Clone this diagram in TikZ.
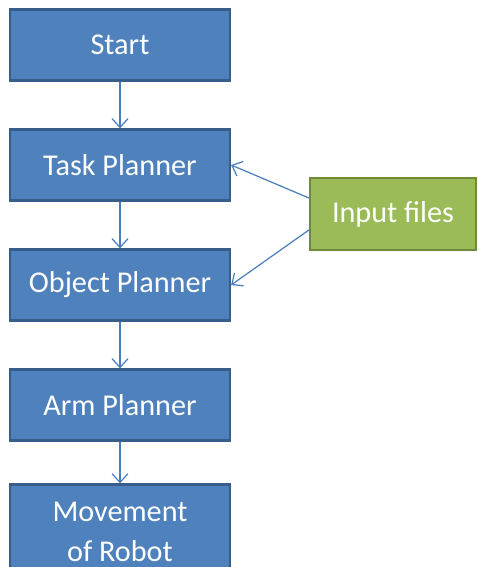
\documentclass[tikz,border=0pt]{standalone}
\usepackage{fontspec}
\setmainfont{Carlito}
\usepackage{xcolor}
\usetikzlibrary{arrows.meta}
\definecolor{boxblue}{HTML}{4F81BD}
\definecolor{lineblue}{HTML}{385D8A}
\definecolor{boxgreen}{HTML}{9BBB59}
\definecolor{linegreen}{HTML}{71893F}
\definecolor{arrowblue}{HTML}{4A7EBB}
\begin{document}
\begin{tikzpicture}[x=0.02cm, y=-0.02cm, >={Straight Barb[length=5pt,width=9pt]},
                    semithick]
\tikzset{stage/.style={shape=rectangle, draw=lineblue, fill=boxblue, line width=1.3pt,
                    text=white, minimum width=4.4cm, minimum height=1.42cm,
                    font=\fontsize{17.2}{22.5}\selectfont, align=center, inner sep=1pt},
         source/.style={stage, draw=linegreen, fill=boxgreen, minimum width=3.32cm,
                    minimum height=1.44cm},
         flow/.style={->, draw=arrowblue, line width=0.7pt}}
  \useasboundingbox (0,0) rectangle (477,567);
  \clip (0,0) rectangle (477,567);
  % planning chain
  \node[stage] (start) at (120,45) {Start};
  \node[stage] (task) at (120,165) {Task Planner};
  \node[stage] (object) at (120,285) {Object Planner};
  \node[stage] (arm) at (120,405) {Arm Planner};
  \node[stage, minimum height=1.9cm] (move) at (120,532) {Movement\\of Robot};
  \node[source] (input) at (393,214) {Input files};
  \draw[flow] (start) -- (task);
  \draw[flow] (task) -- (object);
  \draw[flow] (object) -- (arm);
  \draw[flow] (arm) -- (move);
  \draw[flow] ([yshift=0.32cm]input.west) -- (task.east);
  \draw[flow] ([yshift=-0.32cm]input.west) -- (object.east);
\end{tikzpicture}
\end{document}
